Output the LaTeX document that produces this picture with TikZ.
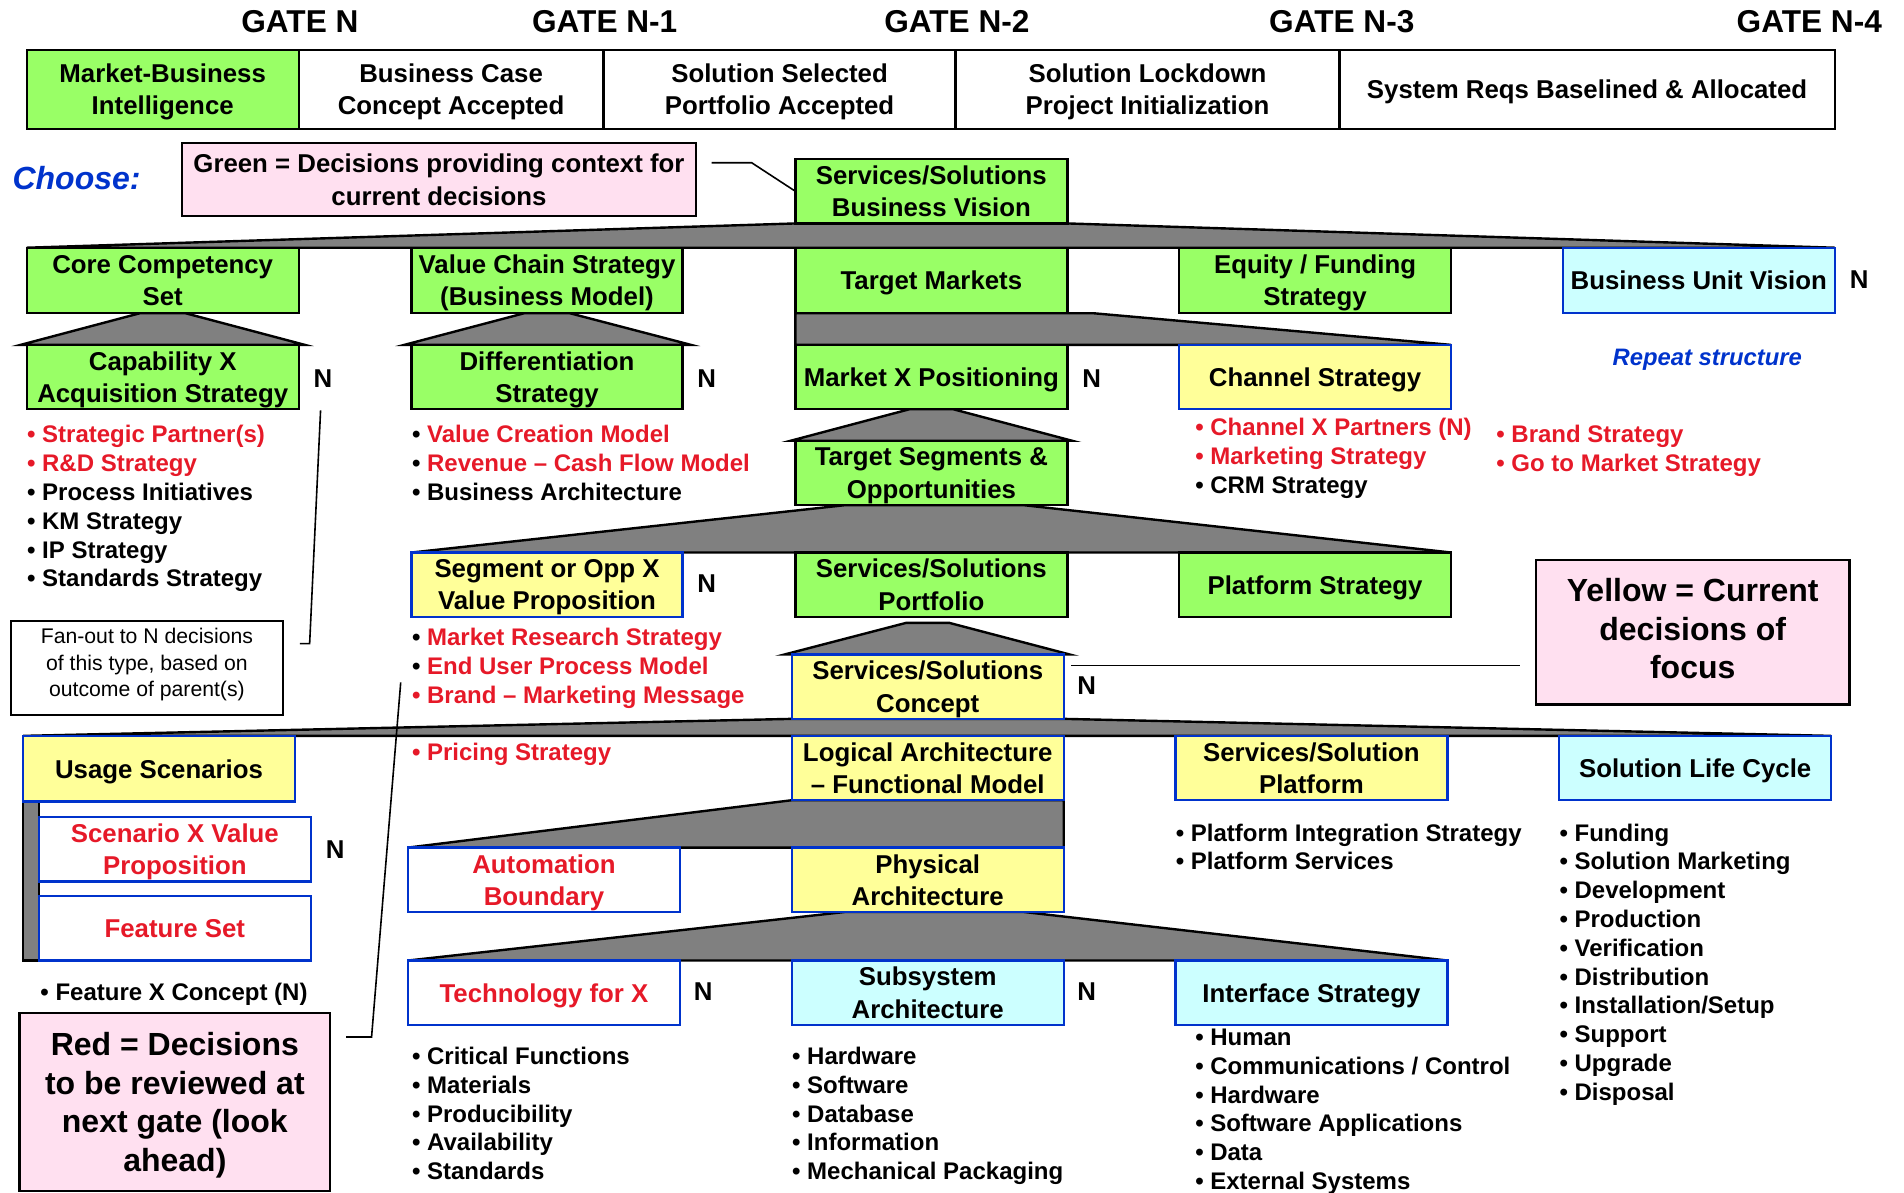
\documentclass[tikz,border=0pt]{standalone}
\usepackage{fontspec}
\setmainfont{Liberation Sans}
\usetikzlibrary{calc,backgrounds}

\newlength\upx
\setlength\upx{0.6071pt}

\definecolor{boxgreen}{RGB}{153,255,102}
\definecolor{boxyellow}{RGB}{255,255,153}
\definecolor{boxcyan}{RGB}{204,255,255}
\definecolor{notepink}{RGB}{255,224,240}
\definecolor{boxblue}{RGB}{0,51,204}
\definecolor{declred}{RGB}{230,25,40}
\definecolor{fangray}{RGB}{128,128,128}

\newcommand\boxfont{\fontsize{12.9}{16.1}\selectfont\bfseries}
\newcommand\bulfont{\fontsize{12}{14.4}\selectfont\bfseries}
\newcommand\gatefont{\fontsize{15.8}{18}\selectfont\bfseries}
\newcommand\bigfont{\fontsize{16}{19.3}\selectfont\bfseries}
\newcommand\notefont{\fontsize{10.6}{13.2}\selectfont}

% bullet items: red bullet + red text, black bullet + red text, all black
\newcommand\rr[1]{\textcolor{declred}{• #1}}
\newcommand\br[1]{• \textcolor{declred}{#1}}
\newcommand\bb[1]{• #1}

\tikzset{
  x=\upx, y=-\upx,
  boxbase/.style={draw, inner sep=0pt, outer sep=0pt, anchor=north west,
    align=center, font=\boxfont, line width=1.2pt, text depth=0pt},
  sz/.style 2 args={minimum width=#1*\upx, minimum height=#2*\upx},
  gbox/.style={boxbase, fill=boxgreen, draw=black},
  ybox/.style={boxbase, fill=boxyellow, draw=boxblue},
  cbox/.style={boxbase, fill=boxcyan, draw=boxblue},
  rbox/.style={boxbase, fill=white, draw=boxblue, text=declred},
  wbox/.style={boxbase, fill=white, draw=black},
  pbox/.style={boxbase, fill=notepink, draw=black},
  fan/.style={fill=fangray, draw=black, line width=1.2pt, line join=miter},
  gate/.style={font=\gatefont, inner sep=0pt},
  nlab/.style={font=\boxfont, inner sep=0pt},
  bul/.style={anchor=north west, align=left, font=\bulfont, inner sep=0pt},
  pointer/.style={draw=black, line width=0.8pt},
}

\begin{document}
\begin{tikzpicture}
\useasboundingbox (0,0) rectangle (1568,982);

% gate headings
\node[gate] (g0) at (247,18) {GATE N};
\node[gate] (g1) at (498,18) {GATE N-1};
\node[gate] (g2) at (788,18) {GATE N-2};
\node[gate] (g3) at (1105,18) {GATE N-3};
\node[gate] (g4) at (1490,18) {GATE N-4};

% gate criteria row
\node[gbox, sz={224}{65}] (mbi) at (22,41) {Market-Business\\Intelligence};
\node[wbox, sz={251}{65}] (bcc) at (246,41) {Business Case\\Concept Accepted};
\node[wbox, sz={290}{65}] (ssa) at (497,41) {Solution Selected\\Portfolio Accepted};
\node[wbox, sz={316}{65}] (slp) at (787,41) {Solution Lockdown\\Project Initialization};
\node[wbox, sz={408}{65}] (srb) at (1103,41) {System Reqs Baselined \& Allocated};

% legend for green
\node[font=\bigfont\itshape, text=boxblue, anchor=west, inner sep=0pt] (choose) at (10,147) {Choose:};
\node[pbox, sz={423}{60}] (leggreen) at (150,118) {Green = Decisions providing context for\\current decisions};

% top decision
\node[gbox, sz={224}{53}] (ssbv) at (655,131) {Services/Solutions\\Business Vision};

% second level
\node[gbox, sz={224}{54}] (cc) at (22,204) {Core Competency\\Set};
\node[gbox, sz={223}{54}] (vcs) at (339,204) {Value Chain Strategy\\(Business Model)};
\node[gbox, sz={224}{54}] (tm) at (655,204) {Target Markets};
\node[gbox, sz={224}{54}] (efs) at (971,204) {Equity / Funding\\Strategy};
\node[cbox, sz={224}{54}] (buv) at (1287,204) {Business Unit Vision};
\node[nlab] (nbuv) at (1531,230) {N};

% third level
\node[gbox, sz={224}{53}] (cap) at (22,284) {Capability X\\Acquisition Strategy};
\node[nlab] (ncap) at (266,312) {N};
\node[gbox, sz={223}{53}] (diff) at (339,284) {Differentiation\\Strategy};
\node[nlab] (ndiff) at (582,312) {N};
\node[gbox, sz={224}{53}] (mxp) at (655,284) {Market X Positioning};
\node[nlab] (nmxp) at (899,312) {N};
\node[ybox, sz={224}{53}] (chan) at (971,284) {Channel Strategy};
\node[font=\fontsize{11.9}{14}\selectfont\bfseries\itshape, text=boxblue, inner sep=0pt] (rep) at (1406,296) {Repeat structure};

\node[gbox, sz={224}{53}] (ts) at (655,363) {Target Segments \&\\Opportunities};

% fourth level
\node[ybox, sz={223}{53}] (seg) at (339,455) {Segment or Opp X\\Value Proposition};
\node[nlab] (nseg) at (582,481) {N};
\node[gbox, sz={224}{53}] (port) at (655,455) {Services/Solutions\\Portfolio};
\node[gbox, sz={224}{53}] (plat) at (971,455) {Platform Strategy};

\node[ybox, sz={224}{53}] (concept) at (652,539) {Services/Solutions\\Concept};
\node[nlab] (nconcept) at (895,565) {N};

% legend for yellow
\node[pbox, sz={258}{119}, font=\bigfont, text depth=3.6pt] (legyellow) at (1265,461) {Yellow = Current\\decisions of\\focus};

% bottom levels
\node[ybox, sz={224}{54}] (us) at (19,606) {Usage Scenarios};
\node[ybox, sz={224}{53}] (la) at (652,606) {Logical Architecture\\– Functional Model};
\node[ybox, sz={224}{53}] (ssplat) at (968,606) {Services/Solution\\Platform};
\node[cbox, sz={224}{53}] (slc) at (1284,606) {Solution Life Cycle};

\node[rbox, sz={224}{53}] (svp) at (32,673) {Scenario X Value\\Proposition};
\node[nlab] (nsvp) at (276,700) {N};
\node[rbox, sz={224}{53}] (fs) at (32,738) {Feature Set};

\node[rbox, sz={224}{53}] (ab) at (336,698) {Automation\\Boundary};
\node[ybox, sz={224}{53}] (pa) at (652,698) {Physical\\Architecture};

\node[rbox, sz={224}{53}] (tech) at (336,791) {Technology for X};
\node[nlab] (ntech) at (579,817) {N};
\node[cbox, sz={224}{53}] (sub) at (652,791) {Subsystem\\Architecture};
\node[nlab] (nsub) at (895,817) {N};
\node[cbox, sz={224}{53}] (ifc) at (968,791) {Interface Strategy};

% notes
\node[wbox, sz={224}{78}, font=\notefont, line width=1pt, text depth=5.2pt] (fanout) at (9,511) {Fan-out to N decisions\\of this type, based on\\outcome of parent(s)};
\node[pbox, sz={256}{147}, font=\bigfont] (legred) at (16,834) {Red = Decisions\\to be reviewed at\\next gate (look\\ahead)};

% bullet lists
\node[bul] (lcap) at (22,350) {\rr{Strategic Partner(s)}\\\rr{R\&D Strategy}\\\bb{Process Initiatives}\\\bb{KM Strategy}\\\bb{IP Strategy}\\\bb{Standards Strategy}};
\node[bul] (ldiff) at (339,350) {\br{Value Creation Model}\\\br{Revenue – Cash Flow Model}\\\bb{Business Architecture}};
\node[bul] (lchan) at (984,344) {\rr{Channel X Partners (N)}\\\rr{Marketing Strategy}\\\bb{CRM Strategy}};
\node[bul] (lbrand) at (1232,350) {\rr{Brand Strategy}\\\rr{Go to Market Strategy}};
\node[bul] (lseg) at (339,517) {\br{Market Research Strategy}\\\br{End User Process Model}\\\rr{Brand – Marketing Message}};
\node[bul] (lprice) at (339,612) {\rr{Pricing Strategy}};
\node[bul] (lfeat) at (33,809) {\bb{Feature X Concept (N)}};
\node[bul] (lplat) at (968,678) {\bb{Platform Integration Strategy}\\\bb{Platform Services}};
\node[bul] (lslc) at (1284,678) {\bb{Funding}\\\bb{Solution Marketing}\\\bb{Development}\\\bb{Production}\\\bb{Verification}\\\bb{Distribution}\\\bb{Installation/Setup}\\\bb{Support}\\\bb{Upgrade}\\\bb{Disposal}};
\node[bul] (ltech) at (339,862) {\bb{Critical Functions}\\\bb{Materials}\\\bb{Producibility}\\\bb{Availability}\\\bb{Standards}};
\node[bul] (lsub) at (652,862) {\bb{Hardware}\\\bb{Software}\\\bb{Database}\\\bb{Information}\\\bb{Mechanical Packaging}};
\node[bul] (lifc) at (984,847) {\bb{Human}\\\bb{Communications / Control}\\\bb{Hardware}\\\bb{Software Applications}\\\bb{Data}\\\bb{External Systems}};

% decomposition fans behind the boxes
\begin{scope}[on background layer]
  \draw[fan] (cc.north west) -- (ssbv.south west) -- (ssbv.south east) -- (buv.north east) -- cycle;
  \draw[fan] ($(cap.north west)+(-5,0)$) -- ($(cc.south)+(-19,0)$) -- ($(cc.south)+(19,0)$) -- ($(cap.north east)+(5,0)$) -- cycle;
  \draw[fan] ($(diff.north west)+(-6,0)$) -- ($(vcs.south)+(-19,0)$) -- ($(vcs.south)+(19,0)$) -- ($(diff.north east)+(7,0)$) -- cycle;
  \draw[fan] (mxp.north west) -- (tm.south west) -- ($(tm.south east)+(22,0)$) -- (chan.north east) -- cycle;
  \draw[fan] ($(ts.north west)+(-4,0)$) -- ($(mxp.south)+(-18,0)$) -- ($(mxp.south)+(18,0)$) -- ($(ts.north east)+(4,0)$) -- cycle;
  \draw[fan] (seg.north west) -- ($(ts.south west)+(41,0)$) -- ($(ts.south east)+(-36,0)$) -- (plat.north east) -- cycle;
  \draw[fan] ($(concept.north west)+(-6,0)$) -- ($(concept.north)+(-18,-26)$) -- ($(concept.north)+(18,-26)$) -- ($(concept.north east)+(5,0)$) -- cycle;
  \draw[fan] (us.north west) -- (concept.south west) -- (concept.south east) -- (slc.north east) -- cycle;
  \draw[fan] (ab.north west) -- (la.south west) -- (la.south east) -- (pa.north east) -- cycle;
  \draw[fan] (tech.north west) -- ($(pa.south west)+(44,0)$) -- ($(pa.south east)+(-33,0)$) -- (ifc.north east) -- cycle;
  \draw[fan] (us.south west) rectangle (fs.south west);
\end{scope}

% pointer lines
\coordinate (lgA) at (586,134);
\coordinate (lgB) at (619,134);
\draw[pointer] (lgA) -- (lgB) -- (ssbv.west);

\coordinate (foA) at (264,338);
\coordinate (foB) at (255,530);
\coordinate (foC) at (247,530);
\draw[pointer] (foA) -- (foB) -- (foC);

\coordinate (rdA) at (330,562);
\coordinate (rdB) at (306,854);
\coordinate (rdC) at (285,854);
\draw[pointer] (rdA) -- (rdB) -- (rdC);

\coordinate (ylA) at (882,548);
\coordinate (ylB) at (1252,548);
\draw[pointer] (ylA) -- (ylB);
\end{tikzpicture}
\end{document}
